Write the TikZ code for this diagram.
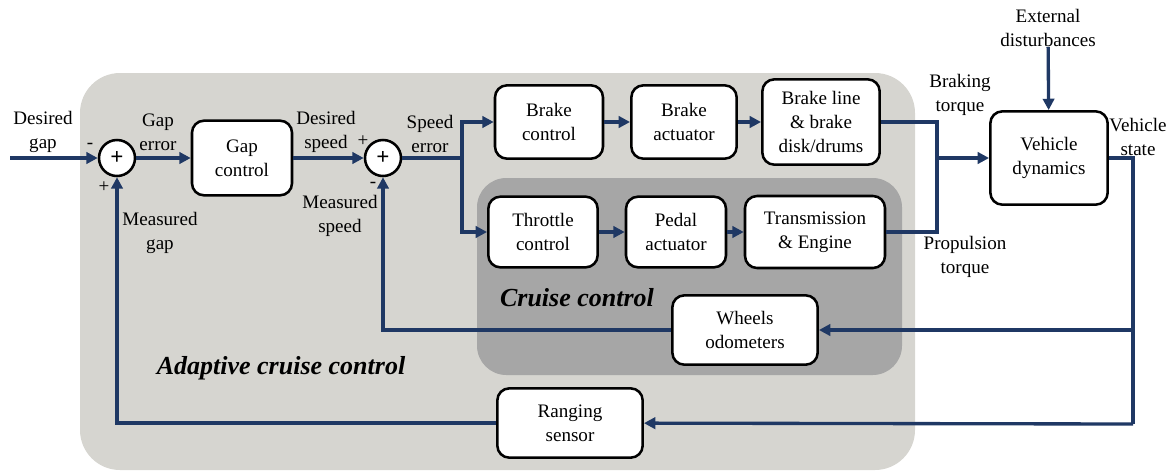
\documentclass[tikz,border=0pt]{standalone}
\usepackage{fontspec}
\setmainfont{Liberation Serif}
\usetikzlibrary{arrows.meta}
\definecolor{sigblue}{RGB}{31,56,100}
\definecolor{accgray}{RGB}{214,213,208}
\definecolor{ccgray}{RGB}{166,166,166}
\tikzset{
  block/.style={draw, fill=white, rounded corners=9pt, line width=1.9pt, align=center, inner sep=0pt},
  sumnode/.style={circle, draw, fill=white, line width=1.9pt, minimum size=27pt, inner sep=0pt},
  sig/.style={draw=sigblue, line width=2.5pt, -{Triangle[length=8.5pt,width=8.5pt]}},
  wire/.style={draw=sigblue, line width=2.5pt},
  lbl/.style={align=center, inner sep=0pt},
  grouplbl/.style={inner sep=0pt, font=\fontsize{19.5}{22}\selectfont\bfseries\itshape}
}

\begin{document}
\begin{tikzpicture}[x=0.75pt, y=-0.75pt, font=\fontsize{14.3}{18}\selectfont]
\useasboundingbox (0,0) rectangle (1174,472);
\fill[accgray, rounded corners=30pt] (80,73) rectangle (915,470);
\fill[ccgray, rounded corners=22pt] (477,178) rectangle (902,375);

\node[sumnode] (sumgap) at (117,158) {\LARGE\textbf{+}};
\node[sumnode] (sumspd) at (383,158) {\LARGE\textbf{+}};
\node[block, minimum width=75pt, minimum height=56pt] (gapctl) at (242,158) {Gap\\control};
\node[block, minimum width=81pt, minimum height=55pt] (brakectl) at (549,122) {Brake\\control};
\node[block, minimum width=79pt, minimum height=55pt] (brakeact) at (684,122) {Brake\\actuator};
\node[block, minimum width=88pt, minimum height=64pt] (brakeline) at (821,122) {Brake line\\\& brake\\disk/drums};
\node[block, minimum width=82pt, minimum height=53pt] (throttle) at (543,232) {Throttle\\control};
\node[block, minimum width=75pt, minimum height=53pt] (pedal) at (676,232) {Pedal\\actuator};
\node[block, minimum width=105pt, minimum height=54pt] (trans) at (815,232) {Transmission\\\& Engine};
\node[block, minimum width=88pt, minimum height=70pt] (vehicle) at (1049,158) {Vehicle\\dynamics};
\node[block, minimum width=109pt, minimum height=52pt] (wheels) at (745,330) {Wheels\\odometers};
\node[block, minimum width=109pt, minimum height=52pt] (ranging) at (570,423) {Ranging\\sensor};
\node[lbl] (ext) at (1048,28) {External\\disturbances};

\coordinate (gapin) at (10,158);
\coordinate (split) at (462,158);
\coordinate (merge) at (937,158);
\coordinate (vstap) at (1133,330);
\coordinate (vsbot) at (1133,424);

\draw[sig] (gapin) -- (sumgap);
\draw[sig] (sumgap) -- (gapctl);
\draw[sig] (gapctl) -- (sumspd);
\draw[wire] (sumspd) -- (split);
\draw[sig] (split) |- (brakectl);
\draw[sig] (split) |- (throttle);
\draw[sig] (brakectl) -- (brakeact);
\draw[sig] (brakeact) -- (brakeline);
\draw[sig] (throttle) -- (pedal);
\draw[sig] (pedal) -- (trans);
\draw[wire] (brakeline.east) -| (merge);
\draw[wire] (trans.east) -| (merge);
\draw[sig] (merge) -- (vehicle);
\draw[sig] (ext) -- (vehicle);
\draw[wire] (vehicle.east) -| (vsbot);
\draw[sig] (vstap) -- (wheels);
\draw[sig] (vsbot) -- (ranging);
\draw[sig] (wheels.west) -| (sumspd.south);
\draw[sig] (ranging.west) -| (sumgap.south);

\node[lbl] (lgapin) at (43,132) {Desired\\gap};
\node[lbl] (lgapm) at (90,146) {-};
\node[lbl] (lgapp) at (104,187) {+};
\node[lbl] (lgaperr) at (158,132) {Gap\\error};
\node[lbl] (lmgap) at (160,233) {Measured\\gap};
\node[lbl] (ldspd) at (326,132) {Desired\\speed};
\node[lbl] (lspdp) at (363,141) {+};
\node[lbl] (lspdm) at (373,185) {-};
\node[lbl] (lmspd) at (340,216) {Measured\\speed};
\node[lbl] (lspderr) at (430,134) {Speed\\error};
\node[lbl] (lbrk) at (960,95) {Braking\\torque};
\node[lbl] (lprop) at (965,257) {Propulsion\\torque};
\node[lbl] (lvs) at (1138,137) {Vehicle\\state};
\node[grouplbl] (lcc) at (577,298) {Cruise control};
\node[grouplbl] (lacc) at (281,368) {Adaptive cruise control};
\end{tikzpicture}
\end{document}
